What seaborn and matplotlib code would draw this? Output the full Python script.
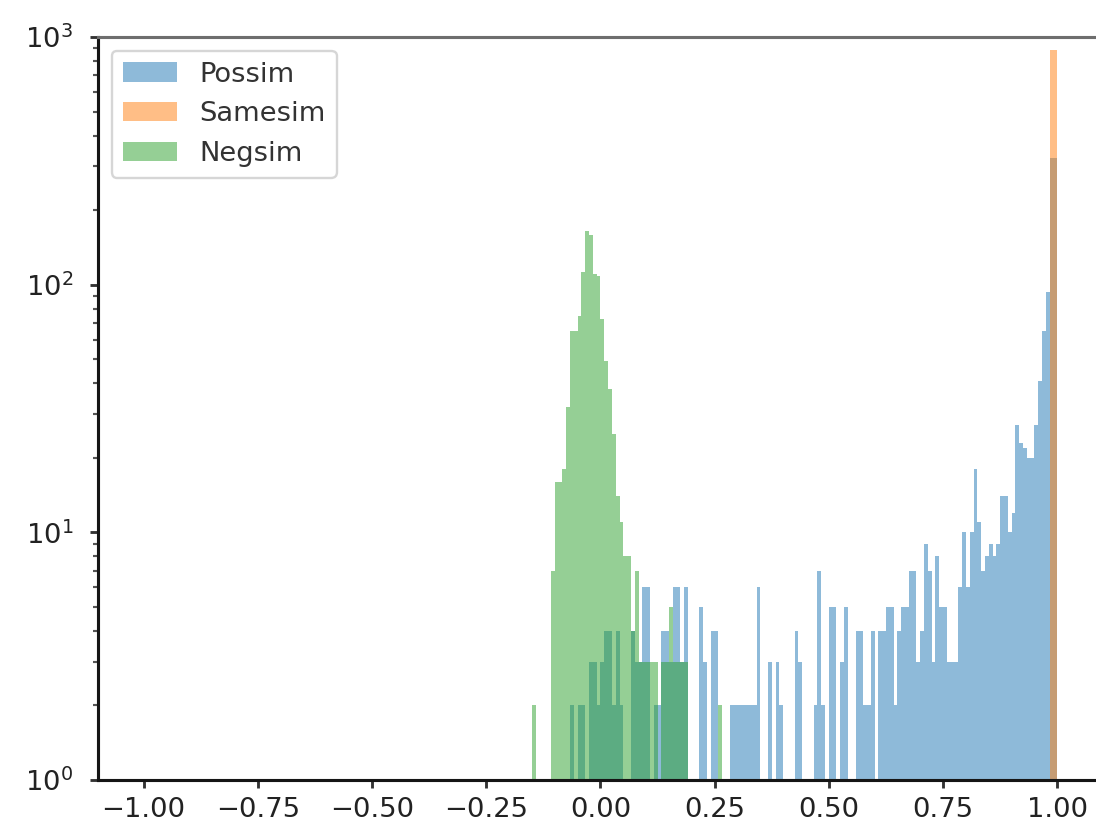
import numpy as np
import pandas as pd
import matplotlib
matplotlib.use("Agg")
import matplotlib.pyplot as plt
from matplotlib.patches import Patch
import seaborn as sns

# ---------------- data ----------------
series_names = ["Possim", "Samesim", "Negsim"]
series_colors = ["#1f77b4", "#ff7f0e", "#2ca02c"]

n_bins = 240
bin_range = (-1.0, 1.0)

# counts per bin, starting at the given bin index
possim_first_bin = 112
possim_counts = [
    2, 0, 2, 2, 0, 3, 3, 2, 3, 4, 4, 2, 4, 2, 0, 0, 4, 3, 3, 6,
    6, 0, 2, 2, 4, 4, 3, 6, 6, 3, 6, 0, 0, 0, 5, 3, 0, 4, 4, 0,
    0, 0, 2, 2, 2, 2, 2, 2, 2, 6, 0, 0, 3, 0, 3, 2, 0, 0, 0, 4,
    3, 0, 0, 0, 2, 7, 2, 0, 5, 5, 0, 3, 5, 0, 0, 4, 4, 2, 2, 4,
    0, 4, 4, 5, 5, 2, 4, 5, 5, 7, 7, 3, 4, 9, 7, 3, 8, 5, 5, 3,
    3, 3, 6, 10, 6, 10, 18, 11, 7, 8, 9, 8, 9, 14, 14, 10, 12, 27, 23, 22,
    20, 20, 27, 41, 65, 93, 325, 325,
]

samesim_first_bin = 238
samesim_counts = [885, 885]

negsim_first_bin = 102
negsim_counts = [
    2, 0, 0, 0, 0, 7, 16, 16, 18, 32, 65, 65, 75, 112, 164, 158, 110, 108, 73, 49,
    38, 25, 14, 11, 8, 8, 4, 7, 3, 3, 3, 3, 3, 0, 3, 3, 5, 3, 3, 3,
    3, 0, 0, 0, 0, 0, 0, 0, 0, 2,
]

x_ticks = [-1.00, -0.75, -0.50, -0.25, 0.00, 0.25, 0.50, 0.75, 1.00]
x_limits = (-1.1, 1.1)
y_limits = (1, 1000)

# ---------------- plot ----------------
edges = np.linspace(bin_range[0], bin_range[1], n_bins + 1)
centers = (edges[:-1] + edges[1:]) / 2

fig = plt.figure(figsize=(6.4, 4.825), dpi=171.4)
ax = fig.add_axes([98 / 1097, 47 / 827, 1005 / 1097, 743 / 827])

series = [
    (series_names[0], series_colors[0], possim_first_bin, possim_counts),
    (series_names[1], series_colors[1], samesim_first_bin, samesim_counts),
    (series_names[2], series_colors[2], negsim_first_bin, negsim_counts),
]

for name, color, first, counts in series:
    w = np.zeros(n_bins)
    w[first:first + len(counts)] = counts
    df = pd.DataFrame({"sim": centers, "count": w})
    sns.histplot(data=df, x="sim", weights="count", bins=list(edges), color=color,
                 alpha=0.5, linewidth=0, edgecolor="none", ax=ax)

ax.set_yscale("log")
ax.set_ylim(*y_limits)
ax.set_xlim(*x_limits)
ax.set_xticks(x_ticks)
ax.set_xticklabels([f"{t:.2f}".replace("-", "\u2212") for t in x_ticks])
ax.set_xlabel("")
ax.set_ylabel("")

for side in ["left", "bottom"]:
    ax.spines[side].set_color("#151515")
    ax.spines[side].set_linewidth(1.3)
ax.spines["top"].set_color("#6e6e6e")
ax.spines["top"].set_linewidth(1.3)
ax.spines["right"].set_visible(False)

ax.tick_params(axis="both", which="major", length=3.5, width=1.2,
               labelsize=11.5, color="#333333", labelcolor="#222222")
ax.tick_params(axis="y", which="minor", length=2, width=0.9, color="#555555")
ax.tick_params(axis="y", which="major", pad=7)

handles = [Patch(facecolor=c, alpha=0.5, edgecolor="none") for c in series_colors]
ax.legend(handles, series_names, loc="upper left", fontsize=11.5,
          labelcolor="#333333")

fig.savefig("out.png", dpi=171.4)
